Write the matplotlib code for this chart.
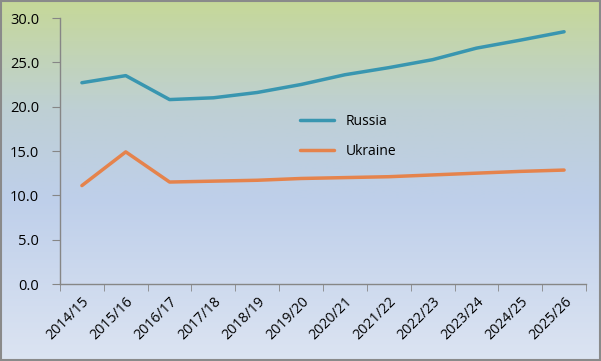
import numpy as np
import matplotlib
matplotlib.use("Agg")
import matplotlib.pyplot as plt
from matplotlib.colors import LinearSegmentedColormap

# ── Data ───────────────────────────────────────────────────────────────
seasons = ["2014/15", "2015/16", "2016/17", "2017/18", "2018/19", "2019/20",
           "2020/21", "2021/22", "2022/23", "2023/24", "2024/25", "2025/26"]
russia = [22.7, 23.5, 20.8, 21.0, 21.6, 22.5, 23.6, 24.4, 25.3, 26.6, 27.5, 28.45]
ukraine = [11.1, 14.9, 11.5, 11.6, 11.7, 11.9, 12.0, 12.1, 12.3, 12.5, 12.7, 12.85]
yticks = [0, 5, 10, 15, 20, 25, 30]

plt.rcParams["font.family"] = ["Open Sans", "DejaVu Sans"]

W, H = 601, 361
fig = plt.figure(figsize=(W / 100, H / 100), dpi=100)

# background gradient over the whole figure
bg = fig.add_axes([0, 0, 1, 1], zorder=0)
stops = [(0.0, (198 / 255, 216 / 255, 152 / 255)),
         (0.3, (190 / 255, 208 / 255, 212 / 255)),
         (0.55, (190 / 255, 207 / 255, 234 / 255)),
         (1.0, (220 / 255, 228 / 255, 242 / 255))]
cmap = LinearSegmentedColormap.from_list("bg", stops)
bg.imshow(np.linspace(0, 1, 256).reshape(-1, 1), aspect="auto", cmap=cmap,
          extent=[0, 1, 0, 1], origin="upper")
bg.set_xlim(0, 1)
bg.set_ylim(0, 1)
bg.axis("off")
bg.add_patch(plt.Rectangle((0.001, 0.002), 0.997, 0.995, fill=False,
                           ec="#8a8a8a", lw=1.5, transform=bg.transAxes))

ax = fig.add_axes([60 / W, 1 - 284 / H, 526 / W, 266 / H], zorder=1)
ax.patch.set_alpha(0)

x = np.arange(len(seasons))
ax.plot(x, russia, color="#3996b0", lw=2.5, label="Russia", solid_capstyle="round")
ax.plot(x, ukraine, color="#e5834c", lw=2.5, label="Ukraine", solid_capstyle="round")

ax.set_xlim(-0.5, len(seasons) - 0.5)
ax.set_ylim(0, 30)
ax.set_yticks(yticks)
ax.set_yticklabels([f"{v:.1f}" for v in yticks], fontsize=10.5)
ax.set_xticks(x)
ax.set_xticklabels(seasons, rotation=45, ha="right", rotation_mode="anchor", fontsize=10.2)
ax.set_xticks(np.arange(-0.5, len(seasons)), minor=True)
ax.tick_params(axis="x", which="major", length=0, pad=7)
ax.tick_params(axis="x", which="minor", length=5, color="#868686", direction="out")
ax.tick_params(axis="y", length=6, color="#868686", direction="out", pad=9)

for side in ["top", "right"]:
    ax.spines[side].set_visible(False)
for side in ["left", "bottom"]:
    ax.spines[side].set_color("#868686")
    ax.spines[side].set_linewidth(1)

ax.legend(loc="upper left", bbox_to_anchor=(0.433, 0.686), frameon=False,
          fontsize=10, handlelength=2.4, labelspacing=1.1, handletextpad=0.85)

fig.savefig("out.png", dpi=100)
